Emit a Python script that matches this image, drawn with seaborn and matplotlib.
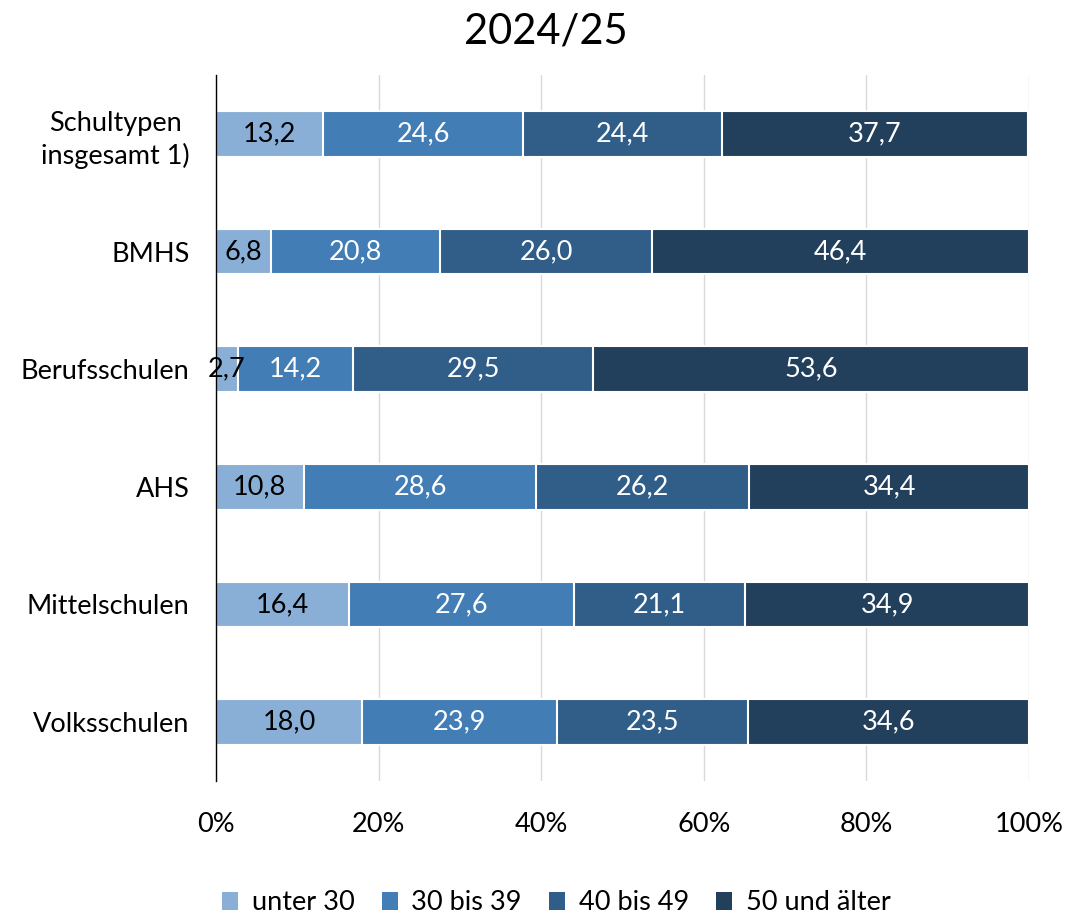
import matplotlib
matplotlib.use("Agg")
import matplotlib.pyplot as plt
import seaborn as sns
import pandas as pd
import numpy as np
from matplotlib.patches import Patch

categories = ["Schultypen\ninsgesamt 1)", "BMHS", "Berufsschulen", "AHS", "Mittelschulen", "Volksschulen"]
series_names = ["unter 30", "30 bis 39", "40 bis 49", "50 und älter"]
unter30 = [13.2, 6.8, 2.7, 10.8, 16.4, 18.0]
b30_39 = [24.6, 20.8, 14.2, 28.6, 27.6, 23.9]
b40_49 = [24.4, 26.0, 29.5, 26.2, 21.1, 23.5]
ab50 = [37.7, 46.4, 53.6, 34.4, 34.9, 34.6]
colors = ["#8AAFD6", "#427DB5", "#305E89", "#223F5B"]
text_colors = ["black", "white", "white", "white"]
xticks = [0, 20, 40, 60, 80, 100]
xticklabels = ["0%", "20%", "40%", "60%", "80%", "100%"]
title = "2024/25"

sns.set_theme(style="white")
plt.rcParams['font.family'] = ['Lato', 'DejaVu Sans']
FS = 19.5

fig = plt.figure(figsize=(10.91, 9.16), dpi=100)
ax = fig.add_axes([216/1091, 1 - 781/916, (1029-216)/1091, (781-75)/916])

series = [unter30, b30_39, b40_49, ab50]
cum = np.cumsum(np.array(series), axis=0)
df_rows = []
for i, name in enumerate(series_names):
    for c, v, e in zip(categories, series[i], cum[i]):
        df_rows.append({"cat": c, "series": name, "value": v, "end": e})
df = pd.DataFrame(df_rows)

for i in range(len(series_names) - 1, -1, -1):
    sub = df[df["series"] == series_names[i]]
    sns.barplot(data=sub, x="end", y="cat", order=categories, orient="h",
                color=colors[i], saturation=1, width=0.39,
                edgecolor="white", linewidth=1.5, ax=ax, zorder=2)

for i in range(len(series_names)):
    sub = df[df["series"] == series_names[i]]
    for j, (v, e) in enumerate(zip(sub["value"], sub["end"])):
        ax.text(e - v / 2, j, f"{v:.1f}".replace(".", ","), ha="center", va="center",
                color=text_colors[i], fontsize=FS, zorder=5)

ax.set_xlim(0, 100)
ax.set_ylim(len(categories) - 0.5, -0.5)
ax.set_xticks(xticks)
ax.set_xticklabels(xticklabels, fontsize=FS)
ax.tick_params(axis="y", labelsize=FS, length=0, pad=19)
ax.tick_params(axis="x", length=0, pad=22)
for lbl in ax.get_yticklabels():
    lbl.set_multialignment("center")
    lbl.set_linespacing(1.35)
    lbl.set_color("black")
for lbl in ax.get_xticklabels():
    lbl.set_color("black")
ax.set_xlabel("")
ax.set_ylabel("")
ax.xaxis.grid(True, color="#D9D9D9", linewidth=1, zorder=0)
ax.set_axisbelow(True)
for s in ["top", "right", "bottom"]:
    ax.spines[s].set_visible(False)
ax.spines["left"].set_color("black")
ax.spines["left"].set_linewidth(1)
ax.spines["left"].set_zorder(6)

fig.text(0.5, 1 - 32/916, title, ha="center", va="center", fontsize=30, color="black")

handles = [Patch(facecolor=c, edgecolor="none") for c in colors]
fig.legend(handles, series_names, loc="center", bbox_to_anchor=(0.51, 1 - 903/916),
           ncol=4, frameon=False, fontsize=FS, handlelength=0.6, handleheight=0.6,
           handletextpad=0.5, columnspacing=1.0, labelcolor="black")

fig.savefig("out.png", dpi=100)
